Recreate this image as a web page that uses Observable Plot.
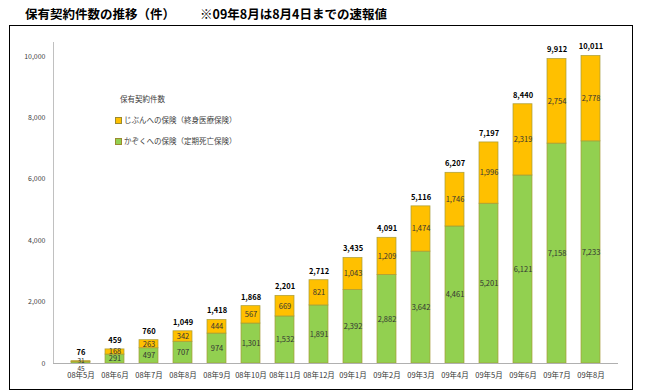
<!DOCTYPE html>
<html>
<head>
<meta charset="utf-8">
<script src="https://cdn.jsdelivr.net/npm/d3@7"></script>
<script src="https://cdn.jsdelivr.net/npm/@observablehq/plot@0.6"></script>
<style>
  body { margin: 0; background: #fff; font-family: "Noto Sans CJK JP", "Noto Sans", sans-serif; }
  #wrap { position: relative; width: 650px; height: 392px; overflow: hidden; }
  #title { height: 25px; line-height: 27px; padding-left: 25px; font-size: 12.5px; font-weight: bold; color: #000; white-space: nowrap; }
  #title .note { margin-left: 25px; }
  #box { position: absolute; left: 9px; top: 25px; width: 622px; height: 363px; border: 1.5px solid #000; pointer-events: none; }
  #legend { position: absolute; left: 115px; top: 94px; font-size: 7.5px; color: #404040; line-height: 10px; }
  #legend .head { margin-left: 5px; margin-bottom: 11px; }
  #legend .item { display: flex; align-items: center; margin-bottom: 11px; }
  #legend .sw { width: 5px; height: 5px; margin-right: 2px; border: 0.5px solid #9a8a30; }
  svg { display: block; }
</style>
</head>
<body>
<div id="wrap">
  <div id="title">保有契約件数の推移（件）<span class="note">※09年8月は8月4日までの速報値</span></div>
  <div id="chart"></div>
  <div id="box"></div>
  <div id="legend"></div>
</div>
<script>
const months = ["08年5月","08年6月","08年7月","08年8月","08年9月","08年10月","08年11月","08年12月",
                "09年1月","09年2月","09年3月","09年4月","09年5月","09年6月","09年7月","09年8月"];
const kazoku = [45, 291, 497, 707, 974, 1301, 1532, 1891, 2392, 2882, 3642, 4461, 5201, 6121, 7158, 7233];
const jibun  = [31, 168, 263, 342, 444, 567, 669, 821, 1043, 1209, 1474, 1746, 1996, 2319, 2754, 2778];
const totals = [76, 459, 760, 1049, 1418, 1868, 2201, 2712, 3435, 4091, 5116, 6207, 7197, 8440, 9912, 10011];
const seriesNames = ["かぞくへの保険（定期死亡保険）", "じぶんへの保険（終身医療保険）"];
const seriesColors = ["#92D050", "#FFC000"];
const yTicks = [0, 2000, 4000, 6000, 8000, 10000];
const legendTitle = "保有契約件数";

const fmt = d3.format(",");
const rows = [];
months.forEach((m, i) => {
  rows.push({month: m, series: seriesNames[0], value: kazoku[i], mid: kazoku[i] / 2, i});
  rows.push({month: m, series: seriesNames[1], value: jibun[i], mid: kazoku[i] + jibun[i] / 2, i});
});
const totalRows = months.map((m, i) => ({month: m, total: totals[i]}));

const font = "'Noto Sans CJK JP', sans-serif";
const chart = Plot.plot({
  width: 650,
  height: 367,
  marginLeft: 53,
  marginRight: 32,
  marginTop: 17,
  marginBottom: 29,
  style: {fontFamily: font, background: "transparent"},
  x: {domain: months, padding: 0.43, label: null},
  y: {domain: [0, 10450], label: null},
  color: {domain: seriesNames, range: seriesColors},
  marks: [
    Plot.barY(rows, {x: "month", y: "value", fill: "series", stroke: "#a59a35", strokeWidth: 0.8, strokeOpacity: 0.85, order: seriesNames}),
    Plot.frame({anchor: "left", stroke: "#c0c0c0"}),
    Plot.ruleY([0], {stroke: "#b0b0b0", strokeWidth: 1}),
    Plot.axisY({ticks: yTicks, tickSize: 0, tickPadding: 8, tickFormat: fmt, fontSize: 7, fill: "#404040", label: null}),
    Plot.axisX({tickSize: 0, tickPadding: 9, fontSize: 7.5, fill: "#333", label: null}),
    Plot.text(rows.filter(d => d.i > 0), {x: "month", y: "mid", text: d => fmt(d.value), fontSize: 7.5, fill: "#333"}),
    Plot.text(rows.filter(d => d.i === 0 && d.series === seriesNames[0]), {x: "month", y: "mid", text: d => fmt(d.value), fontSize: 6.5, fill: "#333", dy: 6}),
    Plot.text(rows.filter(d => d.i === 0 && d.series === seriesNames[1]), {x: "month", y: "mid", text: d => fmt(d.value), fontSize: 6.5, fill: "#333", dy: -1}),
    Plot.text(totalRows, {x: "month", y: "total", text: d => fmt(d.total), fontSize: 7.5, fontWeight: "bold", fill: "#000", dy: -9})
  ]
});
document.getElementById("chart").appendChild(chart);

const legend = document.getElementById("legend");
legend.innerHTML = `<div class="head">${legendTitle}</div>` +
  [1, 0].map(k => `<div class="item"><span class="sw" style="background:${seriesColors[k]}"></span>${seriesNames[k]}</div>`).join("");
</script>
</body>
</html>
